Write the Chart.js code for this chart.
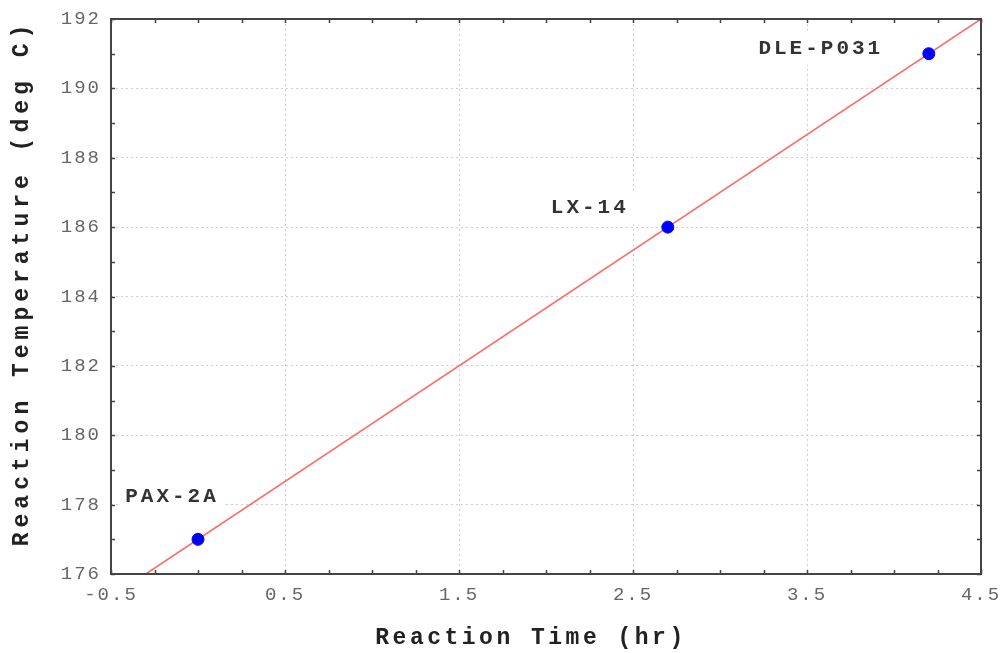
<!DOCTYPE html>
<html>
<head>
<meta charset="utf-8">
<script src="https://cdn.jsdelivr.net/npm/chart.js@4/dist/chart.umd.min.js"></script>
<style>
  html, body { margin: 0; padding: 0; background: #fff; }
  #wrap { width: 1008px; height: 653px; }
</style>
</head>
<body>
<div id="wrap"><canvas id="chart" width="1008" height="653"></canvas></div>
<script>
// Samples
const sampleNames = ['PAX-2A', 'LX-14', 'DLE-P031'];
const reactionTime = [0, 2.7, 4.2];
const reactionTemp = [177, 186, 191];

// Fitted line end points (as seen on the plot)
const fitTime = [-0.3, 4.5];
const fitTemp = [176, 192];

// Axis ranges and titles
const xRange = [-0.5, 4.5];
const yRange = [176, 192];
const xTitle = 'Reaction Time (hr)';
const yTitle = 'Reaction Temperature (deg C)';

// label placement relative to each point (pixels)
const labelOffsets = [[-26, -43], [-78, -19], [-108, -5]];

(function(){
  const MONO = '"Liberation Mono", "DejaVu Sans Mono", monospace';
  const AXIS = '#444';

  const frac = (v) => ((v % 1) + 1) % 1;
  const isMajorX = (v) => { const f = frac(v + 0.5); return f < 1e-6 || f > 1 - 1e-6; };
  const isMajorY = (v) => Math.abs(v % 2) < 1e-6;

  const spacing = {
    id: 'spacing',
    beforeUpdate(chart){ chart.ctx.letterSpacing = '2px'; },
    beforeLayout(chart){ chart.ctx.letterSpacing = '2px'; },
    beforeDraw(chart){ chart.ctx.letterSpacing = '2px'; }
  };

  // white boxes + sample names
  const pointLabels = {
    id: 'pointLabels',
    beforeDatasetsDraw(chart){
      const ctx = chart.ctx;
      const xs = chart.scales.x, ys = chart.scales.y;
      ctx.save();
      ctx.font = 'bold 21px ' + MONO;
      ctx.letterSpacing = '3px';
      ctx.textAlign = 'center';
      ctx.textBaseline = 'middle';
      sampleNames.forEach((name, i) => {
        const px = xs.getPixelForValue(reactionTime[i]) + labelOffsets[i][0];
        const py = ys.getPixelForValue(reactionTemp[i]) + labelOffsets[i][1];
        const w = ctx.measureText(name).width;
        ctx.fillStyle = '#fff';
        ctx.fillRect(px - w / 2 - 6, py - 16, w + 12, 32);
        ctx.fillStyle = '#333';
        ctx.fillText(name, px, py);
      });
      ctx.restore();
    }
  };

  // frame, inward tick marks on all four sides, axis titles
  const frame = {
    id: 'frame',
    afterDatasetsDraw(chart){
      const ctx = chart.ctx;
      const a = chart.chartArea;
      const xs = chart.scales.x, ys = chart.scales.y;
      ctx.save();
      ctx.strokeStyle = AXIS;
      ctx.lineWidth = 1.5;
      ctx.beginPath();
      xs.ticks.forEach(t => {
        const x = Math.round(xs.getPixelForValue(t.value)) + 0.5;
        ctx.moveTo(x, a.bottom); ctx.lineTo(x, a.bottom - 4);
        ctx.moveTo(x, a.top); ctx.lineTo(x, a.top + 4);
      });
      ys.ticks.forEach(t => {
        const y = Math.round(ys.getPixelForValue(t.value)) + 0.5;
        ctx.moveTo(a.left, y); ctx.lineTo(a.left + 4, y);
        ctx.moveTo(a.right, y); ctx.lineTo(a.right - 4, y);
      });
      ctx.stroke();
      ctx.lineWidth = 2;
      ctx.strokeRect(a.left, a.top, a.right - a.left, a.bottom - a.top);

      // titles
      ctx.fillStyle = '#222';
      ctx.textAlign = 'center';
      ctx.textBaseline = 'middle';
      ctx.font = 'bold 23px ' + MONO;
      ctx.letterSpacing = '3.5px';
      ctx.fillText(xTitle, 531, 638);
      ctx.translate(22, 283);
      ctx.rotate(-Math.PI / 2);
      ctx.letterSpacing = '5px';
      ctx.fillText(yTitle, 0, 0);
      ctx.restore();
    }
  };

  new Chart(document.getElementById('chart'), {
    type: 'scatter',
    data: {
      datasets: [
        {
          label: 'fit',
          data: fitTime.map((x, i) => ({ x, y: fitTemp[i] })),
          showLine: true,
          borderColor: '#ff6b6b',
          borderWidth: 1.6,
          pointRadius: 0,
          order: 2
        },
        {
          label: 'samples',
          data: reactionTime.map((x, i) => ({ x, y: reactionTemp[i] })),
          backgroundColor: '#0000ff',
          borderColor: '#0000ff',
          pointRadius: 6,
          order: 1
        }
      ]
    },
    options: {
      responsive: false,
      animation: false,
      layout: { padding: { left: 0, right: 27, top: 19, bottom: 0 } },
      plugins: { legend: { display: false }, tooltip: { enabled: false } },
      scales: {
        x: {
          type: 'linear',
          min: xRange[0], max: xRange[1],
          afterFit: (s) => { s.height = 79; s.paddingLeft = 0; s.paddingRight = 0; },
          ticks: {
            stepSize: 0.25,
            autoSkip: false,
            maxRotation: 0,
            padding: 10,
            color: '#666',
            font: { family: MONO, size: 19 },
            callback: (v) => isMajorX(v) ? String(Math.round(v * 10) / 10) : ''
          },
          grid: {
            drawTicks: false,
            lineWidth: 1,
            color: (c) => (c.tick && isMajorX(c.tick.value) && c.index !== 0 && c.index !== 20) ? '#cfcfcf' : 'rgba(0,0,0,0)'
          },
          border: { display: false, dash: [2, 3] }
        },
        y: {
          type: 'linear',
          min: yRange[0], max: yRange[1],
          afterFit: (s) => { s.width = 111; s.paddingTop = 0; s.paddingBottom = 0; },
          ticks: {
            stepSize: 1,
            autoSkip: false,
            padding: 10,
            color: '#666',
            font: { family: MONO, size: 19 },
            callback: (v) => isMajorY(v) ? String(v) : ''
          },
          grid: {
            drawTicks: false,
            lineWidth: 1,
            color: (c) => (c.tick && isMajorY(c.tick.value) && c.tick.value !== yRange[0] && c.tick.value !== yRange[1]) ? '#cfcfcf' : 'rgba(0,0,0,0)'
          },
          border: { display: false, dash: [2, 3] }
        }
      }
    },
    plugins: [spacing, pointLabels, frame]
  });
})();
</script>
</body>
</html>
